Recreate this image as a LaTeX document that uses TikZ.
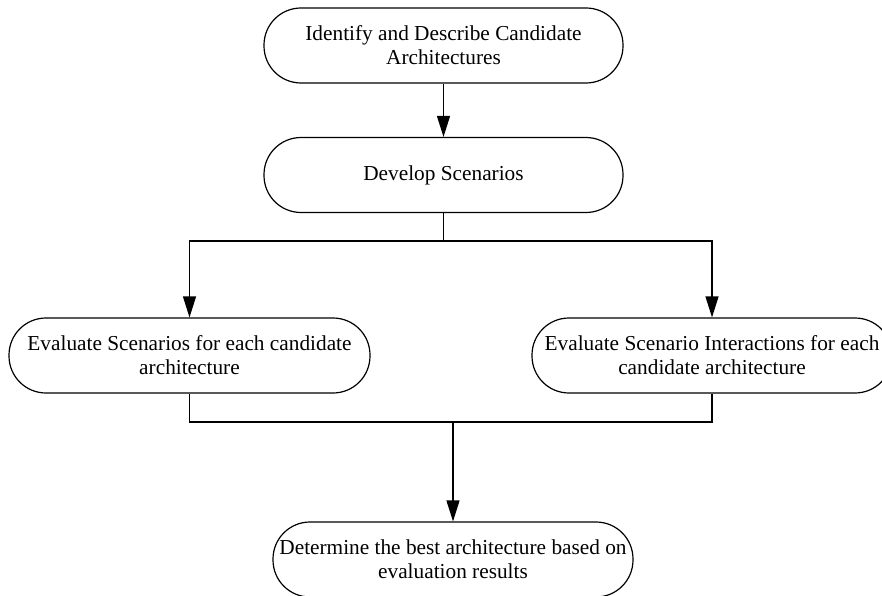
\documentclass[tikz,border=0pt]{standalone}
\usepackage{fontspec}
\setmainfont{Liberation Serif}
\usetikzlibrary{arrows.meta}
\begin{document}
\begin{tikzpicture}[x=1pt,y=-1pt,
  stadium/.style={draw=black, line width=1.2pt, rounded corners=37pt,
    minimum height=75pt, inner sep=0pt, align=center,
    font=\fontsize{21.3}{24}\selectfont},
  wire/.style={draw=black, line width=1.2pt},
  arr/.style={wire, -{Triangle[length=21pt,width=13pt]}}]
  \useasboundingbox (0,0) rectangle (882,596);
  % process steps
  \node[stadium, minimum width=359pt] (ident) at (443.5,45.5)
    {Identify and Describe Candidate\\Architectures};
  \node[stadium, minimum width=359pt] (dev) at (443.5,175)
    {Develop Scenarios};
  \node[stadium, minimum width=361pt] (evs) at (189.5,355.5)
    {Evaluate Scenarios for each candidate\\architecture};
  \node[stadium, minimum width=360pt] (evi) at (712,355.5)
    {Evaluate Scenario Interactions for each\\candidate architecture};
  \node[stadium, minimum width=360pt] (best) at (453,559.5)
    {Determine the best architecture based on\\evaluation results};
  % junction points of the branching and merging lines
  \coordinate (split) at (443.5,241);
  \coordinate (merge) at (453,422);
  % connectors
  \draw[arr] (ident) -- (dev);
  \draw[wire] (dev.south) -- (split);
  \draw[arr] (split) -| (evs.north);
  \draw[arr] (split) -| (evi.north);
  \draw[wire] (evs.south) |- (merge);
  \draw[wire] (evi.south) |- (merge);
  \draw[arr] (merge) -- (best.north);
\end{tikzpicture}
\end{document}
